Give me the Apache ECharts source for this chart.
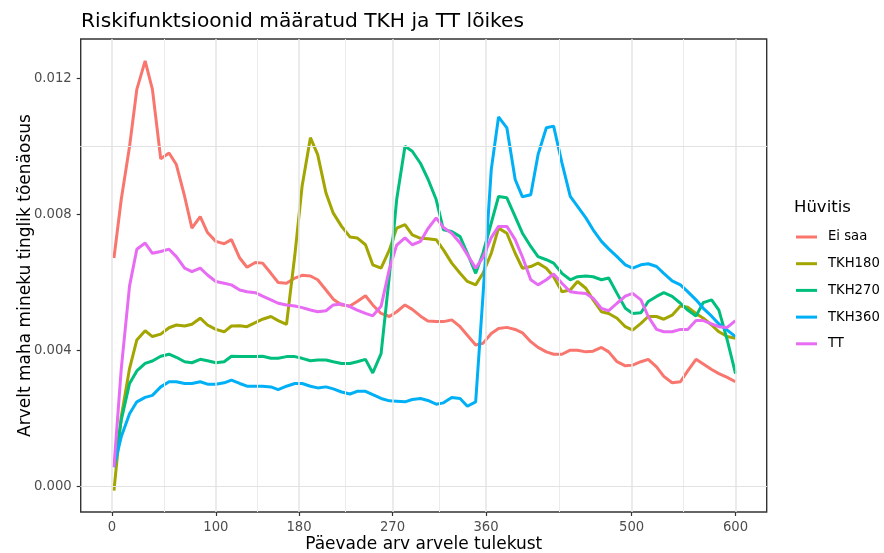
<!DOCTYPE html>
<html lang="et">
<head>
    <meta charset="UTF-8">
    <title>Riskifunktsioonid</title>
    <script src="https://cdn.jsdelivr.net/npm/echarts@6/dist/echarts.min.js"></script>
    <style>
        html, body { margin: 0; padding: 0; background: #fff; }
    </style>
</head>
<body>
    <div id="main" style="width: 884px;height:553px;"></div>
    <script type="text/javascript">
        // päevad arvele tulekust (x)
        var days = [2, 9, 17, 24, 32, 39, 47, 55, 62, 70,
            77, 85, 92, 100, 108, 115, 123, 130, 138, 145,
            153, 160, 168, 176, 183, 191, 198, 206, 213, 221,
            229, 236, 244, 251, 259, 267, 274, 282, 289, 297,
            304, 312, 319, 327, 335, 342, 350, 357, 365, 372,
            380, 388, 395, 403, 410, 418, 425, 433, 441, 448,
            456, 463, 471, 478, 486, 494, 501, 509, 516, 524,
            531, 539, 547, 554, 562, 569, 577, 584, 592, 600];

        var eiSaa = [0.00672, 0.00844, 0.01000, 0.01168, 0.01252, 0.01168, 0.00964, 0.00981, 0.00947, 0.00853,
            0.00760, 0.00794, 0.00747, 0.00721, 0.00714, 0.00726, 0.00672, 0.00645, 0.00659, 0.00657,
            0.00627, 0.00600, 0.00598, 0.00613, 0.00621, 0.00619, 0.00608, 0.00578, 0.00551, 0.00534,
            0.00531, 0.00544, 0.00561, 0.00534, 0.00509, 0.00500, 0.00514, 0.00534, 0.00521, 0.00501,
            0.00487, 0.00485, 0.00485, 0.00490, 0.00470, 0.00445, 0.00416, 0.00421, 0.00450, 0.00465,
            0.00468, 0.00462, 0.00452, 0.00426, 0.00409, 0.00396, 0.00389, 0.00389, 0.00401, 0.00401,
            0.00396, 0.00398, 0.00409, 0.00396, 0.00367, 0.00355, 0.00357, 0.00367, 0.00374, 0.00352,
            0.00324, 0.00305, 0.00308, 0.00340, 0.00374, 0.00360, 0.00344, 0.00332, 0.00321, 0.00308];

        var tkh180 = [-0.00012, 0.00205, 0.00347, 0.00431, 0.00458, 0.00441, 0.00448, 0.00467, 0.00475, 0.00472,
            0.00477, 0.00495, 0.00475, 0.00462, 0.00455, 0.00472, 0.00473, 0.00470, 0.00482, 0.00492,
            0.00500, 0.00488, 0.00477, 0.00680, 0.00883, 0.01026, 0.00976, 0.00863, 0.00804, 0.00765,
            0.00734, 0.00731, 0.00711, 0.00652, 0.00642, 0.00696, 0.00760, 0.00770, 0.00740, 0.00730,
            0.00729, 0.00726, 0.00696, 0.00657, 0.00627, 0.00603, 0.00593, 0.00627, 0.00686, 0.00760,
            0.00745, 0.00686, 0.00642, 0.00647, 0.00657, 0.00642, 0.00617, 0.00573, 0.00578, 0.00603,
            0.00583, 0.00549, 0.00514, 0.00509, 0.00495, 0.00470, 0.00460, 0.00480, 0.00500, 0.00500,
            0.00492, 0.00504, 0.00531, 0.00527, 0.00509, 0.00495, 0.00475, 0.00455, 0.00441, 0.00436];

        var tkh270 = [0.00057, 0.00195, 0.00303, 0.00340, 0.00362, 0.00369, 0.00383, 0.00389, 0.00380, 0.00367,
            0.00364, 0.00374, 0.00370, 0.00364, 0.00367, 0.00383, 0.00382, 0.00382, 0.00382, 0.00383,
            0.00377, 0.00377, 0.00382, 0.00382, 0.00377, 0.00370, 0.00372, 0.00372, 0.00367, 0.00362,
            0.00362, 0.00367, 0.00374, 0.00334, 0.00391, 0.00620, 0.00844, 0.01001, 0.00986, 0.00950,
            0.00905, 0.00844, 0.00755, 0.00750, 0.00735, 0.00686, 0.00627, 0.00686, 0.00775, 0.00853,
            0.00849, 0.00794, 0.00745, 0.00706, 0.00676, 0.00667, 0.00657, 0.00627, 0.00608, 0.00617,
            0.00619, 0.00617, 0.00608, 0.00613, 0.00568, 0.00524, 0.00509, 0.00511, 0.00544, 0.00559,
            0.00570, 0.00559, 0.00539, 0.00519, 0.00501, 0.00541, 0.00549, 0.00519, 0.00431, 0.00332];

        var tkh360 = [0.00057, 0.00146, 0.00214, 0.00249, 0.00262, 0.00268, 0.00293, 0.00308, 0.00308, 0.00303,
            0.00303, 0.00308, 0.00301, 0.00301, 0.00305, 0.00313, 0.00303, 0.00295, 0.00295, 0.00295,
            0.00293, 0.00285, 0.00295, 0.00303, 0.00303, 0.00295, 0.00290, 0.00293, 0.00287, 0.00278,
            0.00272, 0.00280, 0.00280, 0.00270, 0.00259, 0.00252, 0.00251, 0.00249, 0.00256, 0.00259,
            0.00253, 0.00242, 0.00246, 0.00262, 0.00259, 0.00236, 0.00249, 0.00560, 0.00932, 0.01087,
            0.01055, 0.00903, 0.00852, 0.00858, 0.00976, 0.01055, 0.01060, 0.00952, 0.00853, 0.00824,
            0.00790, 0.00755, 0.00721, 0.00699, 0.00676, 0.00652, 0.00642, 0.00652, 0.00655, 0.00647,
            0.00627, 0.00605, 0.00593, 0.00573, 0.00549, 0.00524, 0.00501, 0.00478, 0.00460, 0.00441];

        var tt = [0.00057, 0.00345, 0.00590, 0.00698, 0.00716, 0.00686, 0.00691, 0.00698, 0.00676, 0.00642,
            0.00632, 0.00642, 0.00622, 0.00603, 0.00598, 0.00593, 0.00578, 0.00573, 0.00570, 0.00560,
            0.00549, 0.00539, 0.00534, 0.00531, 0.00526, 0.00519, 0.00514, 0.00517, 0.00534, 0.00537,
            0.00529, 0.00519, 0.00509, 0.00502, 0.00530, 0.00640, 0.00710, 0.00731, 0.00711, 0.00721,
            0.00758, 0.00790, 0.00762, 0.00745, 0.00716, 0.00682, 0.00642, 0.00674, 0.00732, 0.00765,
            0.00765, 0.00726, 0.00675, 0.00608, 0.00593, 0.00608, 0.00625, 0.00598, 0.00573, 0.00570,
            0.00568, 0.00554, 0.00524, 0.00517, 0.00539, 0.00560, 0.00568, 0.00549, 0.00500, 0.00462,
            0.00455, 0.00455, 0.00462, 0.00462, 0.00488, 0.00488, 0.00478, 0.00470, 0.00468, 0.00488];

        var groupNames = ['Ei saa', 'TKH180', 'TKH270', 'TKH360', 'TT'];
        var groupValues = [eiSaa, tkh180, tkh270, tkh360, tt];
        var groupColors = ['#F8766D', '#A3A500', '#00BF7D', '#00B0F6', '#E76BF3'];

        var xTicks = [0, 100, 180, 270, 360, 500, 600];
        var xMinor = [50, 140, 225, 315, 430, 550];
        var yTicks = [0, 0.004, 0.008, 0.012];
        var yMinor = [0.002, 0.006, 0.010];

        var myChart = echarts.init(document.getElementById('main'));

        // ruudustik (theme_bw stiilis) markLine'idena
        var gridLines = [];
        xMinor.forEach(function (v) { gridLines.push({ xAxis: v, lineStyle: { color: '#EBEBEB', width: 1 } }); });
        yMinor.forEach(function (v) { gridLines.push({ yAxis: v, lineStyle: { color: '#EBEBEB', width: 1 } }); });
        xTicks.forEach(function (v) { gridLines.push({ xAxis: v, lineStyle: { color: '#E4E4E4', width: 1.5 } }); });
        yTicks.forEach(function (v) { gridLines.push({ yAxis: v, lineStyle: { color: '#E2E2E2', width: 1 } }); });

        var series = [{
            name: 'grid',
            type: 'line',
            data: [],
            z: 1,
            silent: true,
            markLine: {
                silent: true,
                symbol: ['none', 'none'],
                label: { show: false },
                lineStyle: { type: 'solid' },
                emphasis: { disabled: true },
                animation: false,
                data: gridLines
            }
        }];
        groupNames.forEach(function (name, i) {
            series.push({
                name: name,
                type: 'line',
                z: 3,
                showSymbol: false,
                symbol: 'none',
                color: groupColors[i],
                lineStyle: { width: 3, color: groupColors[i] },
                data: days.map(function (d, j) { return [d, groupValues[i][j]]; })
            });
        });

        var option = {
            animation: false,
            backgroundColor: '#ffffff',
            textStyle: { fontFamily: 'DejaVu Sans' },
            title: [{
                text: 'Riskifunktsioonid määratud TKH ja TT lõikes',
                left: 76,
                top: 7,
                textStyle: { fontSize: 20.2, fontWeight: 'normal', color: '#000', fontFamily: 'DejaVu Sans' }
            }, {
                text: 'Hüvitis',
                left: 789,
                top: 194,
                textStyle: { fontSize: 16.5, fontWeight: 'normal', color: '#000', fontFamily: 'DejaVu Sans' }
            }],
            legend: {
                data: groupNames,
                orient: 'vertical',
                left: 796,
                top: 229,
                padding: 0,
                icon: 'rect',
                itemWidth: 21,
                itemHeight: 3,
                itemGap: 10.7,
                textStyle: { fontSize: 13.2, color: '#000', lineHeight: 16, padding: [0, 0, 0, 6] }
            },
            grid: {
                left: 80.7,
                right: 117.3,
                top: 39,
                bottom: 41,
                outerBoundsMode: 'none',
                containLabel: false,
                show: true,
                backgroundColor: '#ffffff',
                borderColor: '#333333',
                borderWidth: 1.4
            },
            xAxis: {
                type: 'value',
                min: -30,
                max: 630,
                name: 'Päevade arv arvele tulekust',
                nameLocation: 'middle',
                nameGap: 24,
                nameMoveOverlap: false,
                nameTextStyle: { fontSize: 17, color: '#000' },
                axisLine: { show: false, onZero: false },
                splitLine: { show: false },
                axisTick: { show: true, customValues: xTicks, length: 4, lineStyle: { color: '#333333', width: 1.2 } },
                axisLabel: { customValues: xTicks, color: '#4D4D4D', fontSize: 13.2, margin: 9 }
            },
            yAxis: {
                type: 'value',
                min: -0.00075,
                max: 0.0131618,
                name: 'Arvelt maha mineku tinglik tõenäosus',
                nameLocation: 'middle',
                nameGap: 47,
                nameMoveOverlap: false,
                nameTextStyle: { fontSize: 17, color: '#000' },
                axisLine: { show: false, onZero: false },
                splitLine: { show: false },
                axisTick: { show: true, customValues: yTicks, length: 4, lineStyle: { color: '#333333', width: 1.2 } },
                axisLabel: {
                    customValues: yTicks, color: '#4D4D4D', fontSize: 13.2, margin: 9,
                    formatter: function (v) { return v.toFixed(3); }
                }
            },
            series: series
        };
        myChart.setOption(option);
    </script>
</body>
</html>
